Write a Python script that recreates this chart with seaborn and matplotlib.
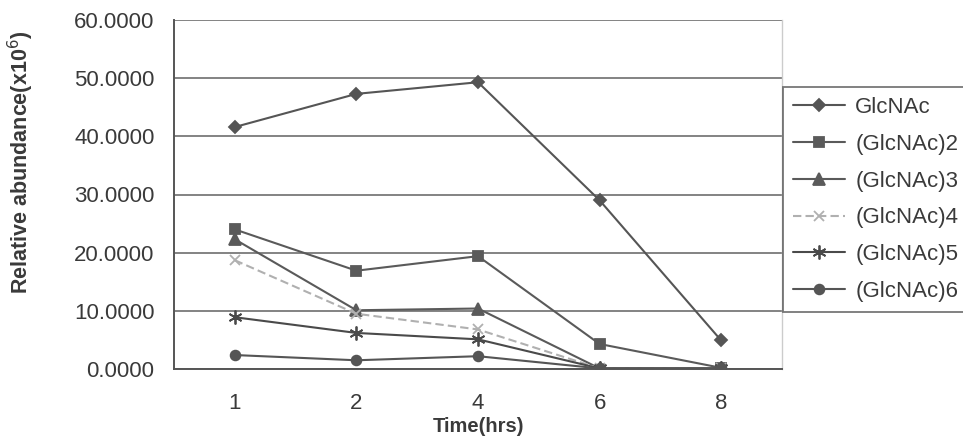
import matplotlib
matplotlib.use("Agg")
import matplotlib.pyplot as plt
import seaborn as sns
import pandas as pd
import numpy as np

# ---- data ----
time_labels = ["1", "2", "4", "6", "8"]
glcnac  = [41.6, 47.3, 49.3, 29.0, 4.9]
glcnac2 = [24.0, 16.9, 19.4, 4.3, 0.2]
glcnac3 = [22.3, 10.1, 10.4, 0.1, 0.1]
glcnac4 = [18.7, 9.5, 6.8, 0.1, 0.1]
glcnac5 = [8.9, 6.2, 5.1, 0.1, 0.1]
glcnac6 = [2.4, 1.5, 2.2, 0.1, 0.1]
series_names = ["GlcNAc", "(GlcNAc)2", "(GlcNAc)3", "(GlcNAc)4", "(GlcNAc)5", "(GlcNAc)6"]
series_vals = [glcnac, glcnac2, glcnac3, glcnac4, glcnac5, glcnac6]
y_ticks = [0, 10, 20, 30, 40, 50, 60]

rows = []
for name, vals in zip(series_names, series_vals):
    for i, v in enumerate(vals):
        rows.append({"series": name, "pos": i, "value": v})
df = pd.DataFrame(rows)

sns.set_theme(style="white")
plt.rcParams["font.family"] = ["Liberation Sans", "DejaVu Sans"]
TXT = "#3a3a3a"

fig = plt.figure(figsize=(9.63, 4.37), dpi=100)
ax = fig.add_axes([174/963, 1-369/437, (782-174)/963, (369-20)/437])

styles = {
    "GlcNAc":    dict(marker="D", ms=6.5, color="#555555", ls="-"),
    "(GlcNAc)2": dict(marker="s", ms=7.5, color="#5a5a5a", ls="-"),
    "(GlcNAc)3": dict(marker="^", ms=8, color="#5a5a5a", ls="-"),
    "(GlcNAc)4": dict(marker="x", ms=7, color="#b0b0b0", ls=(0, (4, 2))),
    "(GlcNAc)5": dict(marker=(6, 2, 0), ms=10, color="#4a4a4a", ls="-"),
    "(GlcNAc)6": dict(marker="o", ms=7, color="#555555", ls="-"),
}

for name in series_names:
    st = styles[name]
    sub = df[df["series"] == name]
    sns.lineplot(data=sub, x="pos", y="value", ax=ax, color=st["color"],
                 linestyle=st["ls"], marker=st["marker"], markersize=st["ms"],
                 markerfacecolor=st["color"], markeredgecolor=st["color"],
                 markeredgewidth=1.3, linewidth=1.5, label=name, legend=False)

ax.set_xlim(-0.5, 4.5)
ax.set_ylim(0, 60)
ax.set_yticks(y_ticks)
ax.set_yticklabels([f"{v:.4f}" for v in y_ticks], fontsize=16, color=TXT)
ax.set_xticks(np.arange(-0.5, 5.0, 1.0))
ax.set_xticklabels([])
ax.set_xticks(range(len(time_labels)), minor=True)
ax.set_xticklabels(time_labels, minor=True, fontsize=16, color=TXT)
ax.tick_params(axis="x", which="major", direction="out", length=6, width=1.2, color="#555555")
ax.tick_params(axis="x", which="minor", length=0, pad=17)
ax.tick_params(axis="y", direction="out", length=6, width=1.2, color="#555555", pad=8)

ax.yaxis.grid(True, color="#7a7a7a", linewidth=1.3)
ax.xaxis.grid(False)
ax.set_axisbelow(True)
for side in ["left", "bottom"]:
    ax.spines[side].set_color("#555555")
    ax.spines[side].set_linewidth(1.4)
ax.spines["top"].set_visible(False)
ax.spines["right"].set_color("#cccccc")
ax.spines["right"].set_linewidth(1.0)

ax.set_xlabel("Time(hrs)", fontsize=14.5, fontweight="bold", color=TXT)
ax.xaxis.set_label_coords(0.5, -(417-369)/349)
ax.set_ylabel("Relative abundance(x10$^6$)", fontsize=15.5, fontweight="bold", color=TXT)
ax.yaxis.set_label_coords((36-174)/608, (369-162)/349)

handles, labels = ax.get_legend_handles_labels()
leg = fig.legend(handles, labels, loc="upper left",
                 bbox_to_anchor=(783/963, 1-87/437), fontsize=16,
                 frameon=True, fancybox=False, labelspacing=0.71,
                 handlelength=2.35, handletextpad=0.45, borderpad=0.45,
                 borderaxespad=0)
leg.get_frame().set_edgecolor("#555555")
leg.get_frame().set_linewidth(1.3)
for t in leg.get_texts():
    t.set_color(TXT)

fig.savefig("out.png", dpi=100)
